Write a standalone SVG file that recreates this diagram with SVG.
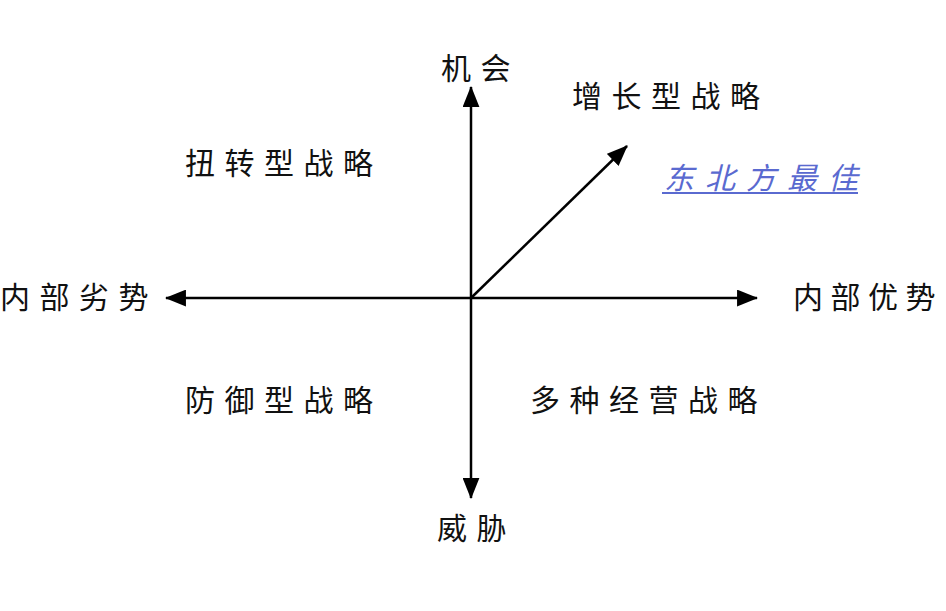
<svg xmlns="http://www.w3.org/2000/svg" width="946" height="611" viewBox="0 0 946 611">
<style>
.t{font-family:"Noto Sans CJK SC","Noto Sans CJK JP",sans-serif;font-size:30px;fill:#111;letter-spacing:9.5px}
.b{font-family:"Noto Sans CJK SC","Noto Sans CJK JP",sans-serif;font-size:30px;fill:#5a6ad0;font-style:italic;letter-spacing:11px}
.ax{stroke:#000;stroke-width:2.5;fill:none}
</style>
<defs>
<marker id="ah" viewBox="0 0 20 16" refX="19" refY="8" markerWidth="21" markerHeight="17" markerUnits="userSpaceOnUse" orient="auto">
<path d="M0,0 L20,8 L0,16 Z" fill="#000"/>
</marker>
</defs>
<rect width="946" height="611" fill="#fff"/>
<g id="connectors">
<line class="ax" x1="471" y1="298" x2="471" y2="87" marker-end="url(#ah)"/>
<line class="ax" x1="471" y1="298" x2="471" y2="498" marker-end="url(#ah)"/>
<line class="ax" x1="471" y1="298" x2="166" y2="298" marker-end="url(#ah)"/>
<line class="ax" x1="471" y1="298" x2="757" y2="298" marker-end="url(#ah)"/>
<line class="ax" x1="471" y1="298" x2="627" y2="146" marker-end="url(#ah)"/>
</g>
<g id="opportunity"><text class="t" x="441" y="79">机会</text></g>
<g id="threat"><text class="t" x="437" y="539">威胁</text></g>
<g id="weakness"><text class="t" x="0" y="308">内部劣势</text></g>
<g id="strength"><text class="t" x="793" y="308" style="letter-spacing:7.5px">内部优势</text></g>
<g id="growth"><text class="t" x="572" y="107">增长型战略</text></g>
<g id="turnaround"><text class="t" x="185" y="174">扭转型战略</text></g>
<g id="defense"><text class="t" x="185" y="411">防御型战略</text></g>
<g id="diversify"><text class="t" x="530" y="411">多种经营战略</text></g>
<g id="best"><text class="b" x="664" y="189">东北方最佳</text><line x1="662" y1="193" x2="858" y2="193" stroke="#5a6ad0" stroke-width="2"/></g>
</svg>
